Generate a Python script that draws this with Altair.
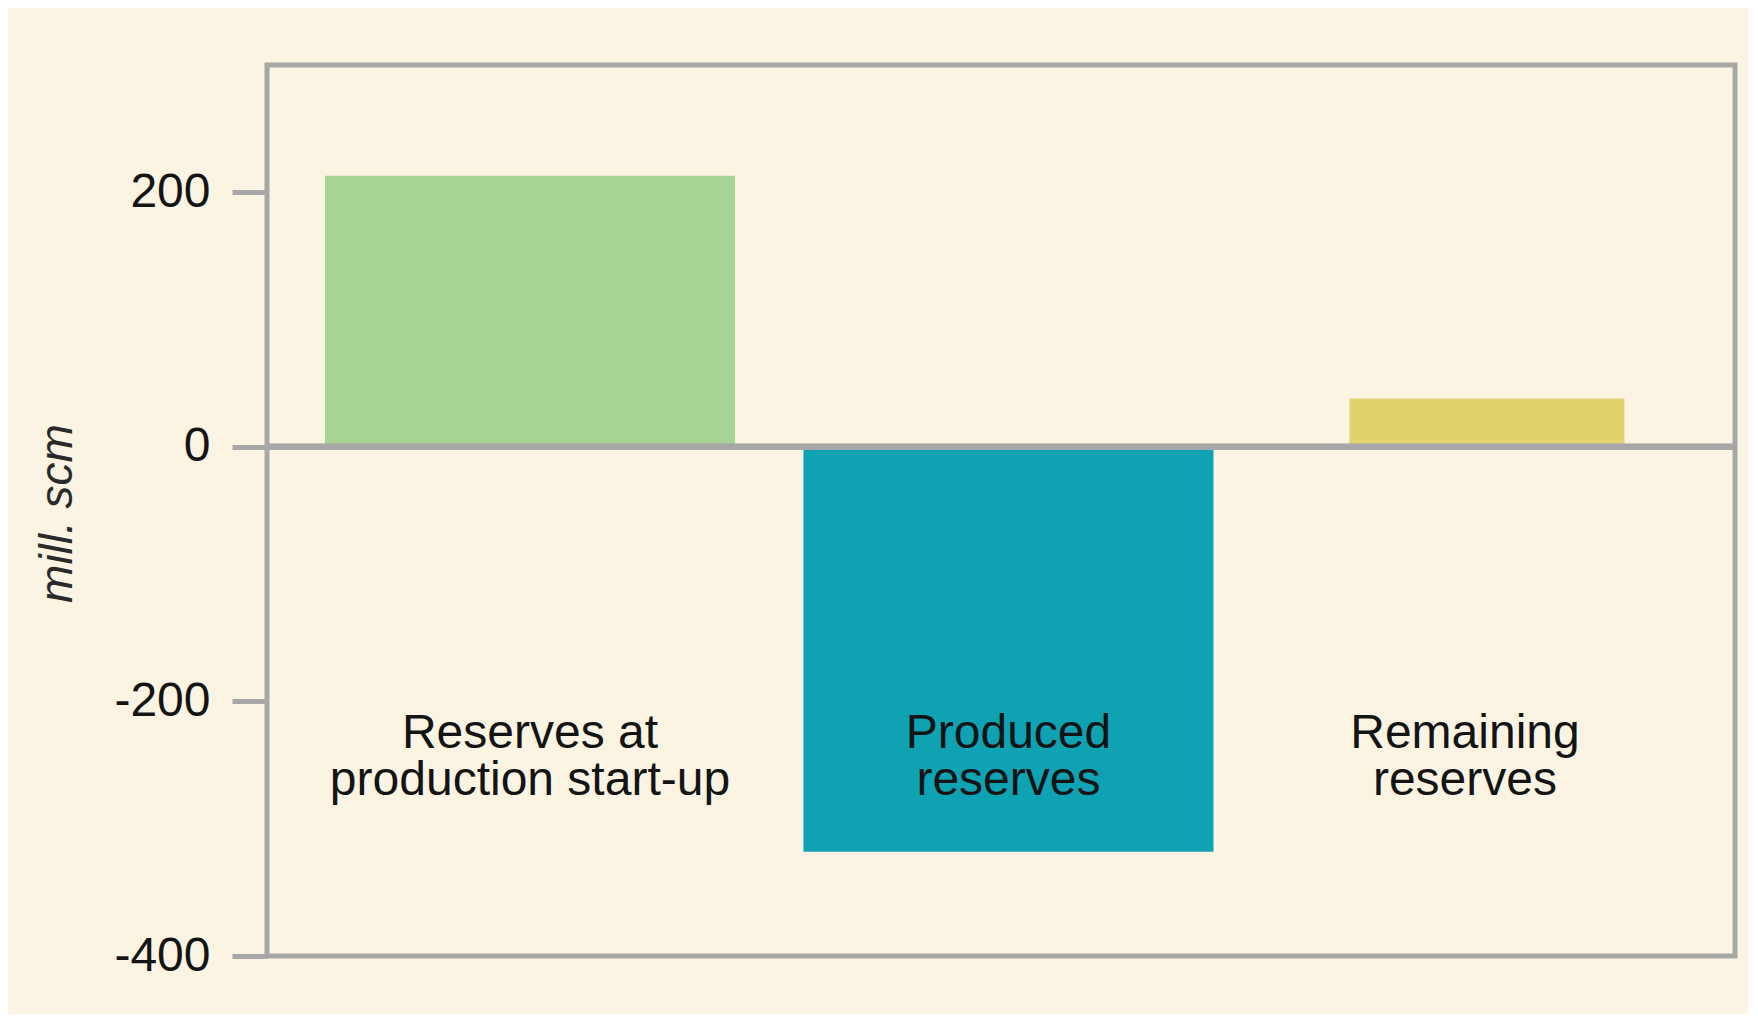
import altair as alt
import pandas as pd

categories = ["Reserves at production start-up", "Produced reserves", "Remaining reserves"]
label_text = ["Reserves at\nproduction start-up", "Produced\nreserves", "Remaining\nreserves"]
values = [213, -318, 38]
bar_colors = ["#A7D395", "#0FA2B2", "#E1D26E"]
y_ticks = [-400, -200, 0, 200]

df = pd.DataFrame({"category": categories, "value": values, "label": label_text})

FONT = "Liberation Sans"
GRAY = "#A7A7A7"
W, H = 1468, 891

x_scale = alt.Scale(domain=categories, paddingInner=0.143, paddingOuter=0.1055, align=0.574)
y_scale = alt.Scale(domain=[-400, 300], nice=False, zero=False)

bars = alt.Chart(df).mark_bar().encode(
    x=alt.X("category:N", scale=x_scale, axis=None, sort=categories),
    y=alt.Y("value:Q", scale=y_scale,
            axis=alt.Axis(values=y_ticks, grid=False, domain=False, tickSize=35, tickWidth=5,
                          tickColor=GRAY, labelFontSize=48, labelFont=FONT, labelColor="#141414",
                          labelPadding=22, labelExpr="'' + datum.value",
                          title="mill. scm", titleFont=FONT, titleFontSize=46,
                          titleFontStyle="italic", titleFontWeight="normal", titleColor="#2a2a2a",
                          titleAngle=270, titleX=-210, titleY=448, titleAlign="center",
                          titleBaseline="middle")),
    y2=alt.datum(0),
    color=alt.Color("category:N", scale=alt.Scale(domain=categories, range=bar_colors), legend=None),
    size=alt.condition(alt.datum.category == "Remaining reserves", alt.value(275), alt.value(410)),
)

zero = alt.Chart(df).mark_rule(color=GRAY, strokeWidth=6).encode(y=alt.datum(0))

LABEL_Y = -236.5
text_main = alt.Chart(df).transform_filter(alt.datum.category != "Remaining reserves").mark_text(
    font=FONT, fontSize=48, lineBreak="\n", lineHeight=47, baseline="alphabetic",
    align="center", color="#141414"
).encode(x=alt.X("category:N", scale=x_scale, sort=categories), y=alt.datum(LABEL_Y), text="label:N")

text_last = alt.Chart(df).transform_filter(alt.datum.category == "Remaining reserves").mark_text(
    font=FONT, fontSize=48, lineBreak="\n", lineHeight=47, baseline="alphabetic",
    align="center", color="#141414", dx=-22
).encode(x=alt.X("category:N", scale=x_scale, sort=categories), y=alt.datum(LABEL_Y), text="label:N")

chart = alt.layer(bars, zero, text_main, text_last).properties(
    width=W, height=H,
    autosize=alt.AutoSizeParams(type="none"),
    padding={"left": 259, "top": 57, "right": 13, "bottom": 58},
    background="#FBF4E3",
).configure_view(stroke=GRAY, strokeWidth=5)

chart.save("out.html", embed_options={"renderer": "svg", "actions": False})
